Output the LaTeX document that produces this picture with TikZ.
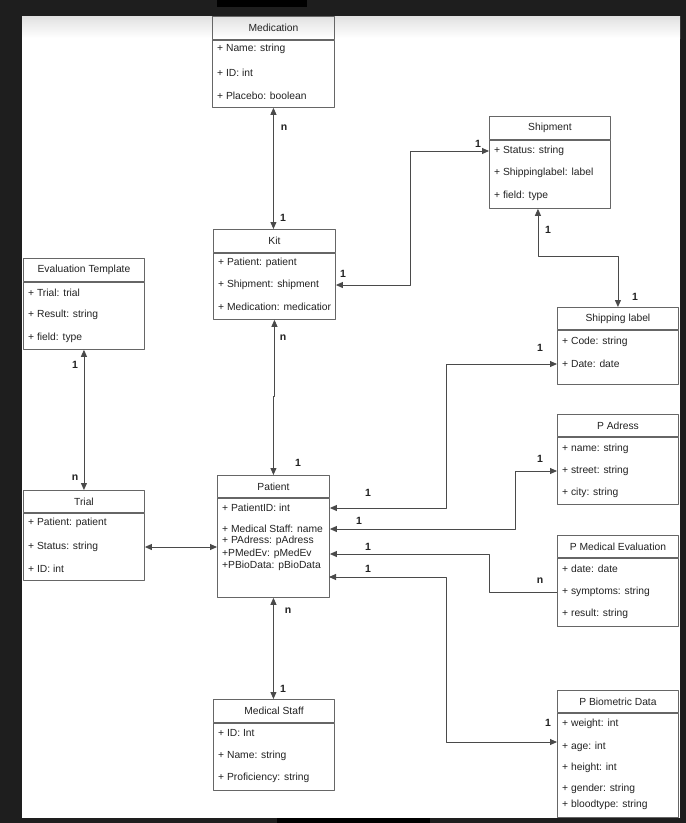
\documentclass[tikz,border=0pt]{standalone}
\usepackage{fontspec}
\setmainfont{Liberation Sans}
\usetikzlibrary{arrows.meta}

\definecolor{frame}{HTML}{1E1E1E}
\definecolor{boxgray}{HTML}{666666}
\definecolor{linegray}{HTML}{4A4A4A}
\definecolor{txt}{HTML}{222222}

\tikzset{
	boxhead/.style={draw=boxgray, line width=0.9pt, minimum width=#1, minimum height=23pt, inner sep=0pt, anchor=north west, text=txt},
	boxbody/.style={draw=boxgray, line width=0.9pt, minimum width=#1, inner sep=0pt, anchor=north west},
	attr/.style={anchor=west, inner sep=0pt, text=txt},
	card/.style={inner sep=0pt, text=txt, font=\fontsize{10.5}{12}\selectfont\bfseries},
	link/.style={draw=linegray, line width=0.9pt, {Triangle[length=7pt,width=6pt]}-{Triangle[length=7pt,width=6pt]}},
	linkin/.style={draw=linegray, line width=0.9pt, {Triangle[length=7pt,width=6pt]}-}
}

\begin{document}
\begin{tikzpicture}[x=1pt, y=-1pt, font=\fontsize{10.3}{12}\selectfont, line join=round]
	
	\useasboundingbox (0,0) rectangle (686,823);
	\fill[frame] (0,0) rectangle (686,823);
	\fill[black] (217,0) rectangle (307,7);
	\fill[black] (277,818) rectangle (430,823);
	\fill[white] (22,16) rectangle (680,818);
	\shade[top color=black!12, bottom color=white] (22,16) rectangle (680,38);
	
	% Medication
	\node[boxhead=122] (medT) at (212,16) {Medication};
	\node[boxbody=122, minimum height=67pt] (med) at (medT.south west) {};
	\node[attr] (medR1) at (217,49) {+ Name: string};
	\node[attr] (medR2) at (217,73) {+ ID: int};
	\node[attr] (medR3) at (217,96) {+ Placebo: boolean};
	
	% Kit
	\node[boxhead=122] (kitT) at (213,229) {Kit};
	\node[boxbody=122, minimum height=66pt] (kit) at (kitT.south west) {};
	\node[attr] (kitR1) at (218,263) {+ Patient: patient};
	\node[attr] (kitR2) at (218,285) {+ Shipment: shipment};
	\node[attr] (kitR3) at (218,307) {+ Medication: medicatior};
	
	% Evaluation Template
	\node[boxhead=121] (evtT) at (23,258) {Evaluation Template};
	\node[boxbody=121, minimum height=67pt] (evt) at (evtT.south west) {};
	\node[attr] (evtR1) at (28,293) {+ Trial: trial};
	\node[attr] (evtR2) at (28,315) {+ Result: string};
	\node[attr] (evtR3) at (28,338) {+ field: type};
	
	% Shipment
	\node[boxhead=121] (shipT) at (489,116) {Shipment};
	\node[boxbody=121, minimum height=68pt] (ship) at (shipT.south west) {};
	\node[attr] (shipR1) at (494,151) {+ Status: string};
	\node[attr] (shipR2) at (494,173) {+ Shippinglabel: label};
	\node[attr] (shipR3) at (494,196) {+ field: type};
	
	% Shipping label
	\node[boxhead=121, minimum height=22pt] (slabelT) at (557,307) {Shipping label};
	\node[boxbody=121, minimum height=54pt] (slabel) at (slabelT.south west) {};
	\node[attr] (slR1) at (562,342) {+ Code: string};
	\node[attr] (slR2) at (562,364) {+ Date: date};
	
	% P Adress
	\node[boxhead=121, minimum height=22pt] (padrT) at (557,414) {P Adress};
	\node[boxbody=121, minimum height=67pt] (padr) at (padrT.south west) {};
	\node[attr] (padrR1) at (562,449) {+ name: string};
	\node[attr] (padrR2) at (562,471) {+ street: string};
	\node[attr] (padrR3) at (562,493) {+ city: string};
	
	% P Medical Evaluation
	\node[boxhead=121, minimum height=22pt] (pmeT) at (557,535) {P Medical Evaluation};
	\node[boxbody=121, minimum height=68pt] (pme) at (pmeT.south west) {};
	\node[attr] (pmeR1) at (562,569) {+ date: date};
	\node[attr] (pmeR2) at (562,592) {+ symptoms: string};
	\node[attr] (pmeR3) at (562,614) {+ result: string};
	
	% Patient
	\node[boxhead=112, minimum height=22pt] (patientT) at (217,475) {Patient};
	\node[boxbody=112, minimum height=99pt] (patient) at (patientT.south west) {};
	\node[attr] (patR1) at (222,508) {+ PatientID: int};
	\node[attr] (patR2) at (222,529) {+ Medical Staff: name};
	\node[attr] (patR3) at (222,541) {+ PAdress: pAdress};
	\node[attr] (patR4) at (222,554) {+PMedEv: pMedEv};
	\node[attr] (patR5) at (222,566) {+PBioData: pBioData};
	
	% Trial
	\node[boxhead=121, minimum height=22pt] (trialT) at (23,490) {Trial};
	\node[boxbody=121, minimum height=67pt] (trial) at (trialT.south west) {};
	\node[attr] (trialR1) at (28,523) {+ Patient: patient};
	\node[attr] (trialR2) at (28,547) {+ Status: string};
	\node[attr] (trialR3) at (28,569) {+ ID: int};
	
	% Medical Staff
	\node[boxhead=121] (mstaffT) at (213,699) {Medical Staff};
	\node[boxbody=121, minimum height=67pt] (mstaff) at (mstaffT.south west) {};
	\node[attr] (msR1) at (218,733) {+ ID: Int};
	\node[attr] (msR2) at (218,756) {+ Name: string};
	\node[attr] (msR3) at (218,778) {+ Proficiency: string};
	
	% P Biometric Data
	\node[boxhead=121, minimum height=22pt] (pbioT) at (557,690) {P Biometric Data};
	\node[boxbody=121, minimum height=104pt] (pbio) at (pbioT.south west) {};
	\node[attr] (bioR1) at (562,724) {+ weight: int};
	\node[attr] (bioR2) at (562,747) {+ age: int};
	\node[attr] (bioR3) at (562,768) {+ height: int};
	\node[attr] (bioR4) at (562,789) {+ gender: string};
	\node[attr] (bioR5) at (562,805) {+ bloodtype: string};
	
	\coordinate (patBio) at (329,577);
	\coordinate (bioIn) at (557,742);
	
	% connectors
	\draw[link] (med.south) -- (med.south |- kitT.north);
	\draw[link] (kit.east |- kitR2) -- ++(75,0) |- (ship.west |- shipR1);
	\draw[link] ([xshift=-12pt]ship.south) -- ++(0,48) -| (slabelT.north);
	\draw[link] (evt.south) -- (trialT.north);
	\draw[link] (kit.south) -- ++(0,77) -| (patientT.north);
	\draw[link] (trial.east |- trialR2) -- (patient.west |- trialR2);
	\draw[link] (patient.south) -- (patient.south |- mstaffT.north);
	\draw[link] (patient.east |- patR1) -- ++(117,0) |- (slabel.west |- slR2);
	\draw[link] (patient.east |- patR2) -- ++(186,0) |- (padr.west |- padrR2);
	\draw[linkin] (patient.east |- patR4) -- ++(160,0) |- (pme.west |- pmeR2);
	\draw[link] (patBio) -- ++(117,0) |- (bioIn);
	
	% multiplicities
	\node[card] (medkitN) at (284,128) {n};
	\node[card] (medkit1) at (283,218) {1};
	\node[card] (kitship1) at (343,274) {1};
	\node[card] (shipkit1) at (478,144) {1};
	\node[card] (shipsl1) at (548,230) {1};
	\node[card] (slship1) at (635,297) {1};
	\node[card] (evttr1) at (75,365) {1};
	\node[card] (evttrN) at (75,478) {n};
	\node[card] (kitpatN) at (283,338) {n};
	\node[card] (kitpat1) at (298,463) {1};
	\node[card] (patmsN) at (288,611) {n};
	\node[card] (patms1) at (283,689) {1};
	\node[card] (patsl1) at (368,493) {1};
	\node[card] (slpat1) at (540,348) {1};
	\node[card] (patadr1) at (359,521) {1};
	\node[card] (adrpat1) at (540,459) {1};
	\node[card] (patme1) at (368,547) {1};
	\node[card] (mepatN) at (540,581) {n};
	\node[card] (patbio1) at (368,569) {1};
	\node[card] (biopat1) at (548,723) {1};
	
\end{tikzpicture}
\end{document}
